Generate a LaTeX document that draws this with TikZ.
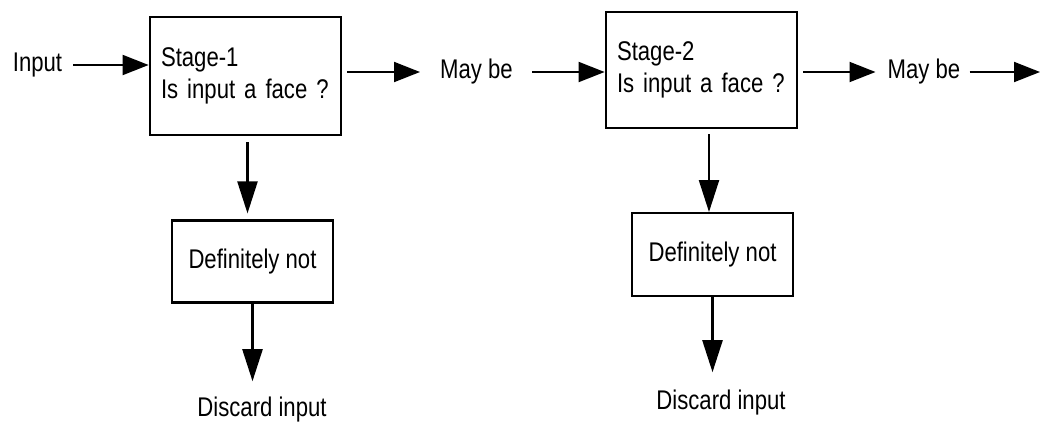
\documentclass[tikz,border=0pt]{standalone}
\usepackage{fontspec}
\setmainfont[FakeStretch=0.82]{Liberation Sans}
\usetikzlibrary{arrows.meta}

\begin{document}
\begin{tikzpicture}[x=1pt,y=-1pt,
	every node/.style={font=\fontsize{27}{32}\selectfont, inner sep=9pt},
	stagebox/.style={draw, line width=2.8pt, minimum width=191pt, minimum height=118pt, text width=169pt, inner sep=11pt, align=left},
	notbox/.style={draw, line width=2.8pt, minimum width=161pt, minimum height=82pt},
	harrow/.style={line width=1.9pt, -{Triangle[length=26pt,width=20pt]}},
	varrow/.style={line width=2.3pt, -{Triangle[length=32pt,width=20pt]}}]
	\useasboundingbox (0,0) rectangle (1040,421);
	%stage one
	\node (input) at (37.5,65) {Input};
	\node[stagebox] (stageA) at (245.5,76) {Stage-1\\Is input a face ?};
	\node (mayA) at (476.5,72) {May be};
	\node[notbox] (notA) at (252.5,261.5) {Definitely not};
	\node (discardA) at (262,410) {Discard input};
	%stage two
	\node[stagebox, minimum height=116pt] (stageB) at (701.5,70) {Stage-2\\Is input a face ?};
	\node (mayB) at (924,72) {May be};
	\node[notbox, minimum height=83pt] (notB) at (712.5,254.5) {Definitely not};
	\node (discardB) at (721,403) {Discard input};
	\coordinate (out) at (1040,72);
	%forward arrows
	\draw[harrow, shorten <=2pt] (input.east) -- (stageA.west |- input.east);
	\draw[harrow, shorten <=5pt, shorten >=11pt] (stageA.east |- mayA.west) -- (mayA.west);
	\draw[harrow, shorten <=10pt] (mayA.east) -- (stageB.west |- mayA.east);
	\draw[harrow, shorten <=5pt, shorten >=3pt] (stageB.east |- mayB.west) -- (mayB.west);
	\draw[harrow] (mayB.east) -- (out);
	%discard arrows
	\draw[varrow, shorten <=6pt] (stageA.south -| notA.north) ++(-5,0) -- ++(0,77);
	\draw[varrow, shorten >=7pt] (notA.south) -- (notA.south |- discardA.north);
	\draw[varrow, shorten <=5pt] (stageB.south -| 709,0) -- (709,212);
	\draw[varrow, shorten >=9pt] (notB.south) -- (notB.south |- discardB.north);
\end{tikzpicture}
\end{document}
